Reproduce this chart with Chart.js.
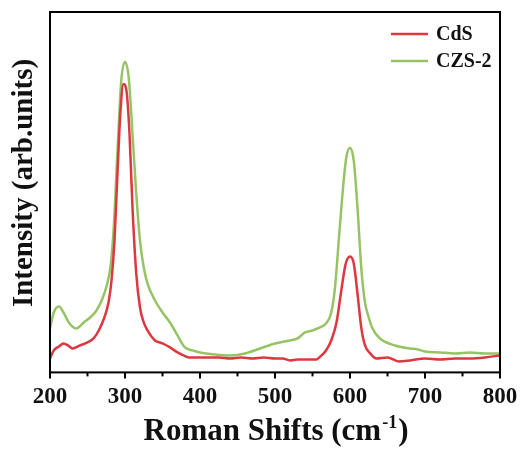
<!DOCTYPE html>
<html>
<head>
<meta charset="utf-8">
<script src="https://cdn.jsdelivr.net/npm/chart.js@4.4.1/dist/chart.umd.min.js"></script>
<style>
  html, body { margin: 0; padding: 0; background: #fff; }
  #wrap { width: 520px; height: 450px; }
</style>
</head>
<body>
<div id="wrap"><canvas id="ramanChart"></canvas></div>
<script>
// Raman shift (cm-1) and intensity (arb. units)
const cdsShift = [200, 205, 212, 218, 224, 230, 240, 250, 258, 265, 272, 278, 282, 286, 290, 294, 298, 302, 306, 310, 315, 320, 325, 330, 340, 350, 360, 370, 378, 385, 395, 410, 425, 440, 455, 470, 485, 500, 510, 520, 530, 545, 555, 562, 568, 575, 582, 588, 594, 600, 605, 610, 615, 620, 627, 635, 650, 665, 680, 700, 720, 740, 760, 780, 800];
const cdsIntensity = [14, 22, 26, 29, 27, 24, 27, 30, 34, 42, 54, 70, 92, 132, 200, 262, 289, 282, 239, 165, 99, 65, 50, 42, 32, 29, 25, 20, 17, 15, 15, 15, 15, 14, 15, 14, 15, 14, 14, 12, 13, 13, 13, 17, 22, 32, 50, 80, 108, 116, 109, 79, 45, 27, 19, 14, 15, 11, 12, 14, 13, 14, 14, 15, 17];

const czsShift = [200, 205, 212, 218, 225, 235, 245, 255, 262, 270, 276, 281, 285, 290, 295, 300, 305, 310, 315, 320, 325, 330, 340, 350, 360, 370, 380, 390, 400, 420, 440, 460, 480, 500, 520, 530, 540, 550, 560, 568, 575, 580, 585, 590, 595, 600, 605, 610, 615, 620, 625, 630, 640, 660, 680, 690, 700, 720, 740, 760, 780, 800];
const czsIntensity = [44, 60, 66, 60, 50, 44, 50, 56, 62, 74, 88, 108, 145, 222, 292, 311, 295, 239, 179, 132, 105, 89, 72, 60, 50, 37, 25, 22, 20, 18, 17, 19, 24, 29, 32, 34, 40, 42, 45, 49, 60, 85, 132, 179, 215, 225, 212, 165, 105, 70, 55, 44, 34, 27, 24, 23, 21, 20, 19, 20, 19, 19];

const xTickLabels = [200, 300, 400, 500, 600, 700, 800];

const toPoints = (xs, ys) => xs.map((x, i) => ({ x: x, y: ys[i] }));

const serif = '"Liberation Serif", "Times New Roman", serif';

// frame, tick marks, axis titles and legend drawn on top
const framePlugin = {
    id: 'frame',
    afterDraw(chart) {
        const { ctx, chartArea: a } = chart;
        const xs = chart.scales.x;
        ctx.save();
        ctx.strokeStyle = '#000';
        ctx.lineWidth = 2;
        ctx.strokeRect(a.left, a.top, a.right - a.left, a.bottom - a.top);
        for (let v = 200; v <= 800; v += 50) {
            const px = xs.getPixelForValue(v);
            const len = v % 100 === 0 ? 6 : 4;
            ctx.beginPath();
            ctx.moveTo(px, a.bottom);
            ctx.lineTo(px, a.bottom + len);
            ctx.stroke();
        }

        ctx.fillStyle = '#111';
        // x title with superscript
        const big = 'bold 31px ' + serif, small = 'bold 18px ' + serif;
        const p1 = 'Roman Shifts (cm', sup = '-1', p2 = ')';
        ctx.font = big;
        const w1 = ctx.measureText(p1).width, w3 = ctx.measureText(p2).width;
        ctx.font = small;
        const w2 = ctx.measureText(sup).width;
        let x0 = (a.left + a.right) / 2 - (w1 + w2 + w3) / 2;
        ctx.textBaseline = 'alphabetic';
        ctx.textAlign = 'left';
        ctx.font = big;
        ctx.fillText(p1, x0, 440);
        ctx.font = small;
        ctx.fillText(sup, x0 + w1 + 1, 428);
        ctx.font = big;
        ctx.fillText(p2, x0 + w1 + w2 + 2, 440);

        // y title
        ctx.save();
        ctx.translate(32, 183);
        ctx.rotate(-Math.PI / 2);
        ctx.font = 'bold 29px ' + serif;
        ctx.textAlign = 'center';
        ctx.fillText('Intensity (arb.units)', 0, 0);
        ctx.restore();

        // legend
        ctx.font = 'bold 20px ' + serif;
        ctx.textBaseline = 'middle';
        chart.data.datasets.forEach((ds, i) => {
            const y = 34 + i * 27;
            ctx.strokeStyle = ds.borderColor;
            ctx.lineWidth = 2.5;
            ctx.beginPath();
            ctx.moveTo(391, y);
            ctx.lineTo(428, y);
            ctx.stroke();
            ctx.fillText(ds.label, 436, y + 1);
        });
        ctx.restore();
    }
};

new Chart(document.getElementById('ramanChart'), {
    type: 'line',
    data: {
        datasets: [{
            label: 'CdS',
            data: toPoints(cdsShift, cdsIntensity),
            borderColor: 'rgb(221, 56, 64)',
            borderWidth: 2.5,
            pointRadius: 0,
            cubicInterpolationMode: 'monotone'
        },
        {
            label: 'CZS-2',
            data: toPoints(czsShift, czsIntensity),
            borderColor: 'rgb(150, 196, 100)',
            borderWidth: 2.5,
            pointRadius: 0,
            cubicInterpolationMode: 'monotone'
        }]
    },
    options: {
        responsive: true,
        maintainAspectRatio: false,
        animation: false,
        layout: { padding: { top: 12, right: 20, left: 50, bottom: 28 } },
        plugins: {
            legend: { display: false },
            tooltip: { enabled: false }
        },
        scales: {
            x: {
                type: 'linear',
                min: 200,
                max: 800,
                grid: { display: false, drawTicks: false },
                border: { display: false },
                afterFit: scale => { scale.paddingLeft = 0; scale.paddingRight = 0; },
                ticks: {
                    stepSize: 100,
                    padding: 11,
                    color: '#111',
                    maxRotation: 0,
                    font: { family: 'Liberation Serif', size: 23, weight: 'bold' },
                    callback: v => xTickLabels.includes(v) ? v : ''
                }
            },
            y: {
                display: false,
                min: 0,
                max: 361
            }
        }
    },
    plugins: [framePlugin]
});
</script>
</body>
</html>
